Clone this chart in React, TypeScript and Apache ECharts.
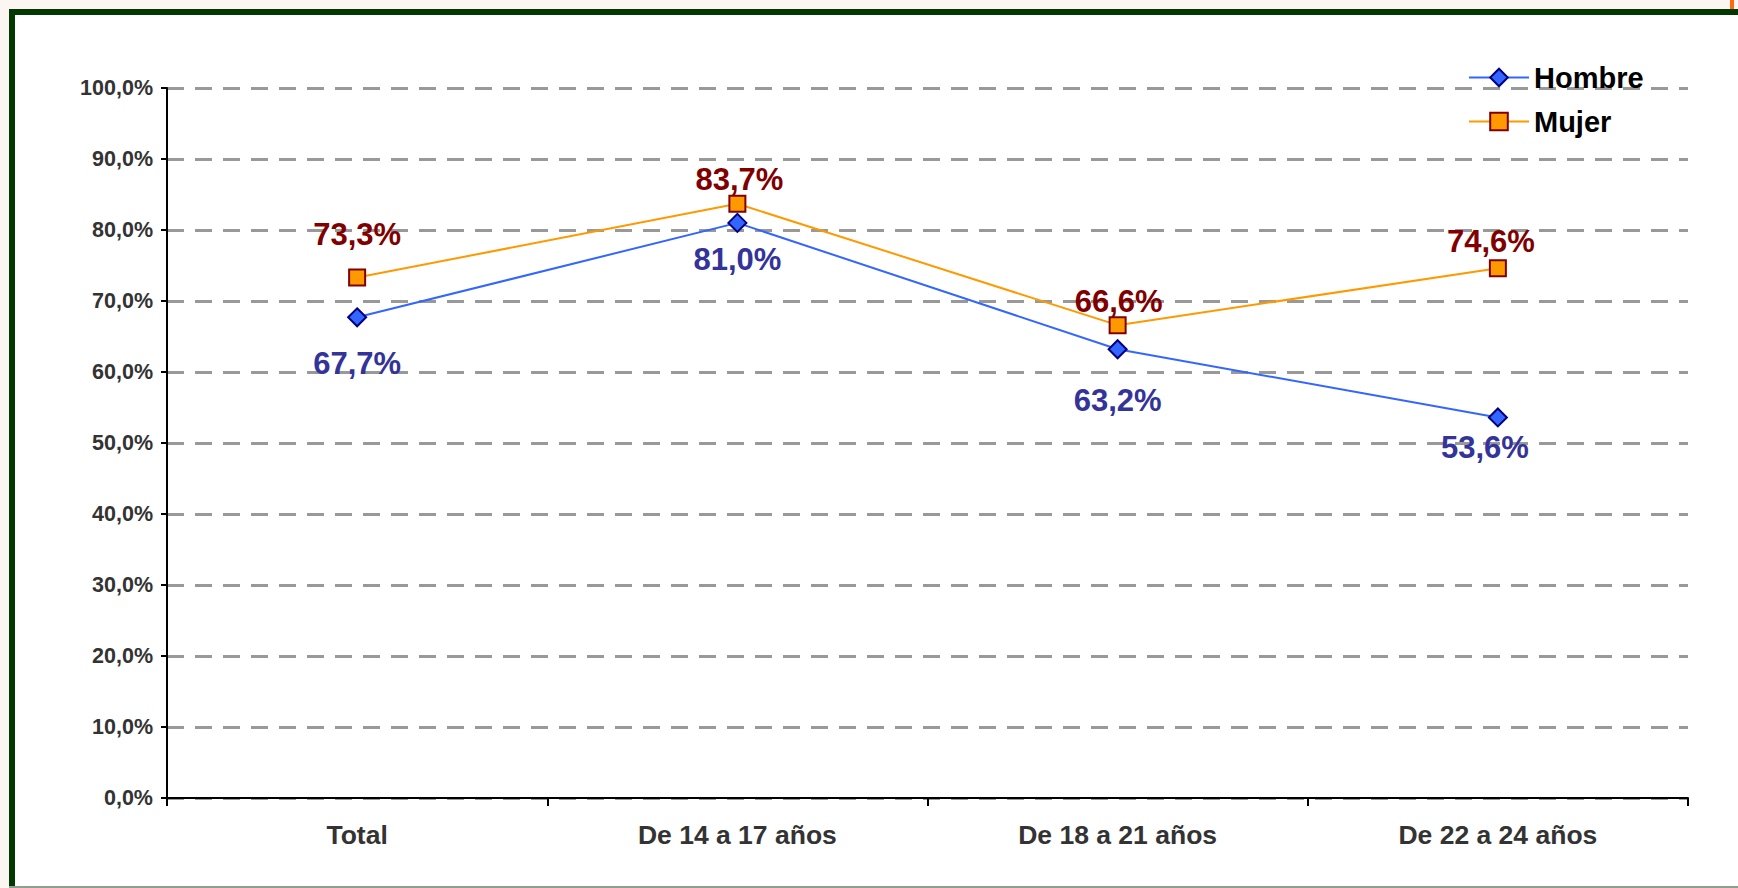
import React, { useEffect, useRef } from "react";
import * as echarts from "echarts";

const categories = ["Total", "De 14 a 17 años", "De 18 a 21 años", "De 22 a 24 años"];
const hombreValues = [67.7, 81.0, 63.2, 53.6];
const mujerValues = [73.3, 83.7, 66.6, 74.6];
const yTicks = [0, 10, 20, 30, 40, 50, 60, 70, 80, 90, 100];

// label offsets relative to the marker centre (style only)
const hombreLabelOffsets = [[0, 46], [0, 37], [0, 51], [-13, 30]];
const mujerLabelOffsets = [[0, -43], [2, -24], [1, -24], [-7, -27]];

const FONT = "'Liberation Sans', Arial, Helvetica, sans-serif";
const fmt = (v: number) => v.toFixed(1).replace(".", ",") + "%";

export default function App() {
  const ref = useRef<HTMLDivElement>(null);
  useEffect(() => {
    if (!ref.current) return;
    const chart = echarts.init(ref.current, null, { renderer: "svg" });
    const makeData = (vals: number[], offs: number[][]) =>
      vals.map((v, i) => ({
        value: v,
        label: { offset: offs[i] },
      }));
    chart.setOption({
      animation: false,
      backgroundColor: "#fbf6f1",
      graphic: [
        { type: "rect", z: -10, shape: { x: 12, y: 12, width: 1726, height: 874 }, style: { fill: "#ffffff" } },
        { type: "rect", z: -9, shape: { x: 9, y: 9, width: 1729, height: 6 }, style: { fill: "#033803" } },
        { type: "rect", z: -9, shape: { x: 9, y: 9, width: 6, height: 878 }, style: { fill: "#033803" } },
        { type: "rect", z: -9, shape: { x: 9, y: 886, width: 1729, height: 2 }, style: { fill: "#8e9f8e" } },
        { type: "rect", z: -9, shape: { x: 1730, y: 0, width: 4, height: 9 }, style: { fill: "#ff6a10" } },
      ],
      grid: { left: 167, right: 50, top: 88, bottom: 90, containLabel: false },
      legend: {
        orient: "vertical",
        left: 1463,
        top: 58,
        padding: 5,
        itemWidth: 60,
        itemHeight: 22,
        itemGap: 15,
        textStyle: { fontFamily: FONT, fontSize: 29, fontWeight: "bold", color: "#000" },
        data: ["Hombre", "Mujer"],
      },
      xAxis: {
        type: "category",
        data: categories,
        boundaryGap: true,
        axisLine: { show: true, lineStyle: { color: "#000", width: 2 } },
        axisTick: { show: true, length: 8, lineStyle: { color: "#000", width: 2 } },
        axisLabel: { margin: 23, fontFamily: FONT, fontSize: 26.5, fontWeight: "bold", color: "#333" },
        splitLine: { show: false },
      },
      yAxis: {
        type: "value",
        min: 0,
        max: 100,
        interval: 10,
        axisLine: { show: true, lineStyle: { color: "#000", width: 2 } },
        axisTick: { show: true, length: 6, lineStyle: { color: "#000", width: 2 } },
        axisLabel: {
          margin: 14,
          fontFamily: FONT,
          fontSize: 21.5,
          fontWeight: "bold",
          color: "#333",
          formatter: (v: number) => (yTicks.includes(v) ? fmt(v) : ""),
        },
        splitLine: { show: true, lineStyle: { color: "#999", width: 3, type: [17, 11] } },
      },
      series: [
        {
          name: "Hombre",
          type: "line",
          data: makeData(hombreValues, hombreLabelOffsets),
          symbol: "diamond",
          symbolSize: 18,
          lineStyle: { color: "#3366ff", width: 2 },
          itemStyle: { color: "#3366ff", borderColor: "#000080", borderWidth: 2 },
          label: {
            show: true,
            position: "inside",
            fontFamily: FONT,
            fontSize: 31,
            fontWeight: "bold",
            color: "#333399",
            formatter: (p: any) => fmt(p.value),
          },
          z: 3,
        },
        {
          name: "Mujer",
          type: "line",
          data: makeData(mujerValues, mujerLabelOffsets),
          symbol: "rect",
          symbolSize: 16,
          lineStyle: { color: "#ff9900", width: 2 },
          itemStyle: { color: "#ff9900", borderColor: "#800000", borderWidth: 2 },
          label: {
            show: true,
            position: "inside",
            fontFamily: FONT,
            fontSize: 31,
            fontWeight: "bold",
            color: "#800000",
            formatter: (p: any) => fmt(p.value),
          },
          z: 4,
        },
      ],
    });
    return () => chart.dispose();
  }, []);
  return (
    <div
      ref={ref}
      style={{ position: "absolute", left: 0, top: 0, width: 1738, height: 888 }}
    />
  );
}
